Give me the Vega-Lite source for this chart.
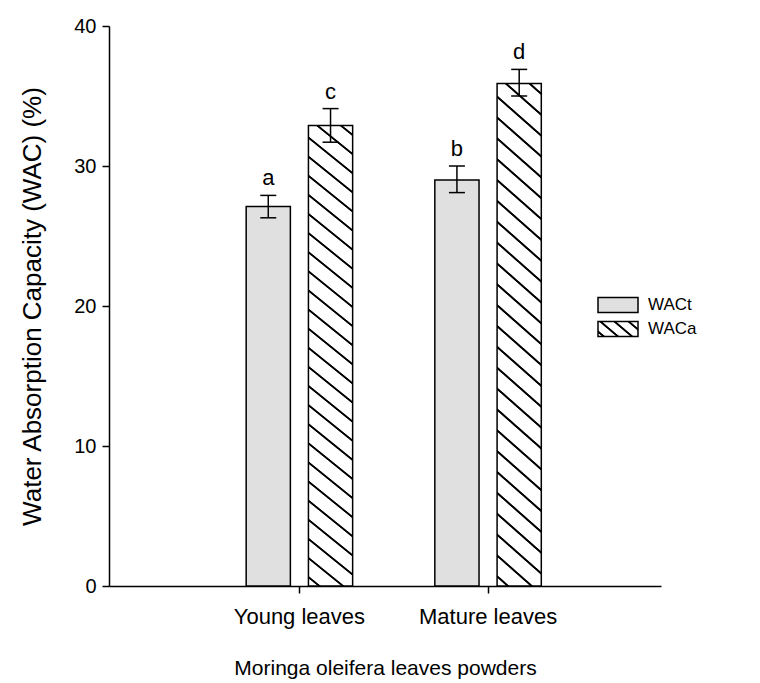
{
  "$schema": "https://vega.github.io/schema/vega-lite/v6.json",
  "width": 552,
  "height": 560,
  "padding": {"left": 19, "top": 16, "right": 5, "bottom": 3},
  "background": "white",
  "config": {
    "view": {"stroke": null},
    "font": "Liberation Sans",
    "axis": {
      "grid": false,
      "domainColor": "black",
      "tickColor": "black",
      "labelColor": "black",
      "titleColor": "black",
      "domainWidth": 1.5,
      "tickWidth": 1.5,
      "tickSize": 7,
      "titleFontWeight": "normal",
      "labelFont": "Liberation Sans",
      "titleFont": "Liberation Sans"
    }
  },
  "data": {
    "values": [
      {"group": "Young leaves", "series": "WACt", "mean": 27.1, "lo": 26.3, "hi": 27.9, "letter": "a"},
      {"group": "Young leaves", "series": "WACa", "mean": 32.9, "lo": 31.7, "hi": 34.1, "letter": "c"},
      {"group": "Mature leaves", "series": "WACt", "mean": 29.0, "lo": 28.1, "hi": 30.0, "letter": "b"},
      {"group": "Mature leaves", "series": "WACa", "mean": 35.9, "lo": 35.0, "hi": 36.9, "letter": "d"}
    ]
  },
  "encoding": {
    "x": {
      "field": "group",
      "type": "nominal",
      "sort": ["Young leaves", "Mature leaves"],
      "scale": {"paddingInner": 0, "paddingOuter": 0.463, "align": 0.55},
      "axis": {
        "title": "Moringa oleifera leaves powders",
        "labelAngle": 0,
        "labelFontSize": 22,
        "titleFontSize": 21,
        "labelPadding": 13,
        "titlePadding": 30
      }
    },
    "xOffset": {
      "field": "series",
      "type": "nominal",
      "sort": ["WACt", "WACa"],
      "scale": {"paddingInner": 0.29, "paddingOuter": 0.66}
    }
  },
  "layer": [
    {
      "mark": {"type": "bar", "stroke": "black", "strokeWidth": 1.5, "opacity": 1},
      "encoding": {
        "y": {
          "field": "mean",
          "type": "quantitative",
          "scale": {"domain": [0, 40]},
          "axis": {
            "values": [0, 10, 20, 30, 40],
            "title": "Water Absorption Capacity (WAC) (%)",
            "labelFontSize": 20,
            "titleFontSize": 26,
            "labelPadding": 6,
            "titlePadding": 28
          }
        },
        "fill": {
          "condition": {
            "test": "datum.series === 'WACa'",
            "value": {
              "gradient": "linear",
              "x1": 0, "y1": 1, "x2": 0.08311, "y2": -0.07115,
              "stops": [
                {"offset": 0, "color": "white"},
                {"offset": 0.0144, "color": "white"}, {"offset": 0.0164, "color": "black"}, {"offset": 0.0194, "color": "black"}, {"offset": 0.0214, "color": "white"},
                {"offset": 0.0529, "color": "white"}, {"offset": 0.0549, "color": "black"}, {"offset": 0.0579, "color": "black"}, {"offset": 0.0599, "color": "white"},
                {"offset": 0.0914, "color": "white"}, {"offset": 0.0934, "color": "black"}, {"offset": 0.0965, "color": "black"}, {"offset": 0.0984, "color": "white"},
                {"offset": 0.1299, "color": "white"}, {"offset": 0.1319, "color": "black"}, {"offset": 0.1350, "color": "black"}, {"offset": 0.1369, "color": "white"},
                {"offset": 0.1684, "color": "white"}, {"offset": 0.1704, "color": "black"}, {"offset": 0.1735, "color": "black"}, {"offset": 0.1754, "color": "white"},
                {"offset": 0.2069, "color": "white"}, {"offset": 0.2089, "color": "black"}, {"offset": 0.2120, "color": "black"}, {"offset": 0.2139, "color": "white"},
                {"offset": 0.2454, "color": "white"}, {"offset": 0.2474, "color": "black"}, {"offset": 0.2505, "color": "black"}, {"offset": 0.2524, "color": "white"},
                {"offset": 0.2839, "color": "white"}, {"offset": 0.2859, "color": "black"}, {"offset": 0.2890, "color": "black"}, {"offset": 0.2909, "color": "white"},
                {"offset": 0.3224, "color": "white"}, {"offset": 0.3244, "color": "black"}, {"offset": 0.3275, "color": "black"}, {"offset": 0.3295, "color": "white"},
                {"offset": 0.3610, "color": "white"}, {"offset": 0.3629, "color": "black"}, {"offset": 0.3660, "color": "black"}, {"offset": 0.3680, "color": "white"},
                {"offset": 0.3995, "color": "white"}, {"offset": 0.4014, "color": "black"}, {"offset": 0.4045, "color": "black"}, {"offset": 0.4065, "color": "white"},
                {"offset": 0.4380, "color": "white"}, {"offset": 0.4399, "color": "black"}, {"offset": 0.4430, "color": "black"}, {"offset": 0.4450, "color": "white"},
                {"offset": 0.4765, "color": "white"}, {"offset": 0.4784, "color": "black"}, {"offset": 0.4815, "color": "black"}, {"offset": 0.4835, "color": "white"},
                {"offset": 0.5150, "color": "white"}, {"offset": 0.5169, "color": "black"}, {"offset": 0.5200, "color": "black"}, {"offset": 0.5220, "color": "white"},
                {"offset": 0.5535, "color": "white"}, {"offset": 0.5554, "color": "black"}, {"offset": 0.5585, "color": "black"}, {"offset": 0.5605, "color": "white"},
                {"offset": 0.5920, "color": "white"}, {"offset": 0.5939, "color": "black"}, {"offset": 0.5970, "color": "black"}, {"offset": 0.5990, "color": "white"},
                {"offset": 0.6305, "color": "white"}, {"offset": 0.6325, "color": "black"}, {"offset": 0.6355, "color": "black"}, {"offset": 0.6375, "color": "white"},
                {"offset": 0.6690, "color": "white"}, {"offset": 0.6710, "color": "black"}, {"offset": 0.6741, "color": "black"}, {"offset": 0.6760, "color": "white"},
                {"offset": 0.7075, "color": "white"}, {"offset": 0.7095, "color": "black"}, {"offset": 0.7126, "color": "black"}, {"offset": 0.7145, "color": "white"},
                {"offset": 0.7460, "color": "white"}, {"offset": 0.7480, "color": "black"}, {"offset": 0.7511, "color": "black"}, {"offset": 0.7530, "color": "white"},
                {"offset": 0.7845, "color": "white"}, {"offset": 0.7865, "color": "black"}, {"offset": 0.7896, "color": "black"}, {"offset": 0.7915, "color": "white"},
                {"offset": 0.8230, "color": "white"}, {"offset": 0.8250, "color": "black"}, {"offset": 0.8281, "color": "black"}, {"offset": 0.8300, "color": "white"},
                {"offset": 0.8615, "color": "white"}, {"offset": 0.8635, "color": "black"}, {"offset": 0.8666, "color": "black"}, {"offset": 0.8685, "color": "white"},
                {"offset": 0.9000, "color": "white"}, {"offset": 0.9020, "color": "black"}, {"offset": 0.9051, "color": "black"}, {"offset": 0.9070, "color": "white"},
                {"offset": 0.9386, "color": "white"}, {"offset": 0.9405, "color": "black"}, {"offset": 0.9436, "color": "black"}, {"offset": 0.9456, "color": "white"},
                {"offset": 0.9771, "color": "white"}, {"offset": 0.9790, "color": "black"}, {"offset": 0.9821, "color": "black"}, {"offset": 0.9841, "color": "white"},
                {"offset": 1, "color": "white"}
              ]
            }
          },
          "value": "#e0e0e0"
        }
      }
    },
    {
      "mark": {"type": "point", "filled": true, "opacity": 0},
      "encoding": {
        "y": {"field": "mean", "type": "quantitative"},
        "fill": {
          "field": "series",
          "type": "nominal",
          "scale": {
            "domain": ["WACt", "WACa"],
            "range": [
              "#e0e0e0",
              {"expr": "{gradient: 'linear', x1: 0, y1: 1, x2: 1.2064, y2: 0.4678, stops: [{offset: 0, color: 'white'}, {offset: 0.0653, color: 'white'}, {offset: 0.0857, color: 'black'}, {offset: 0.1183, color: 'black'}, {offset: 0.1387, color: 'white'}, {offset: 0.3103, color: 'white'}, {offset: 0.3307, color: 'black'}, {offset: 0.3633, color: 'black'}, {offset: 0.3837, color: 'white'}, {offset: 0.5553, color: 'white'}, {offset: 0.5757, color: 'black'}, {offset: 0.6083, color: 'black'}, {offset: 0.6287, color: 'white'}, {offset: 0.8003, color: 'white'}, {offset: 0.8207, color: 'black'}, {offset: 0.8533, color: 'black'}, {offset: 0.8737, color: 'white'}, {offset: 1, color: 'white'}]}"}
            ]
          },
          "legend": {
            "title": null,
            "orient": "none",
            "legendX": 498,
            "legendY": 268,
            "symbolType": "M-2,-0.75H2V0.75H-2Z",
            "symbolSize": 400,
            "symbolOpacity": 1,
            "symbolStrokeColor": "black",
            "symbolStrokeWidth": 1.5,
            "labelFontSize": 17,
            "labelColor": "black",
            "labelFont": "Liberation Sans",
            "labelOffset": 19,
            "rowPadding": 2
          }
        }
      }
    },
    {
      "mark": {"type": "rule", "color": "black", "strokeWidth": 1.5, "opacity": 1},
      "encoding": {
        "y": {"field": "lo", "type": "quantitative"},
        "y2": {"field": "hi"}
      }
    },
    {
      "mark": {"type": "tick", "color": "black", "size": 16, "thickness": 1.5, "opacity": 1},
      "encoding": {"y": {"field": "lo", "type": "quantitative"}}
    },
    {
      "mark": {"type": "tick", "color": "black", "size": 16, "thickness": 1.5, "opacity": 1},
      "encoding": {"y": {"field": "hi", "type": "quantitative"}}
    },
    {
      "mark": {"type": "text", "baseline": "bottom", "dy": -5, "fontSize": 22, "color": "black", "font": "Liberation Sans", "opacity": 1},
      "encoding": {
        "y": {"field": "hi", "type": "quantitative"},
        "text": {"field": "letter"}
      }
    }
  ]
}
